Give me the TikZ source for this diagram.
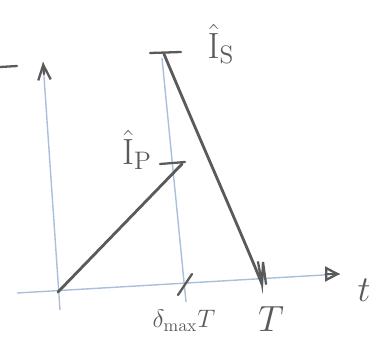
\documentclass[tikz,border=0pt]{standalone}
\usepackage{amsmath,amssymb}
\usepackage{xcolor}
\usetikzlibrary{arrows.meta,positioning,calc}
\definecolor{paleblue}{RGB}{170,192,218}
\definecolor{pencil}{RGB}{90,90,90}

\begin{document}
\begin{tikzpicture}[x=0.02cm, y=-0.02cm,
    axis/.style={paleblue, line width=0.8pt},
    pencilline/.style={pencil, line width=1.6pt, line cap=round},
    ticks/.style={pencil, line width=1.3pt, line cap=round},
    lbl/.style={pencil, inner sep=1pt, font=\huge}
]
\useasboundingbox (0,0) rectangle (385,349);

% axes
\coordinate (o) at (58,292);
\coordinate (ybot) at (60,310);
\coordinate (ytop) at (43,62);
\coordinate (xbeg) at (17,293);
\coordinate (xend) at (340,274);
\coordinate (vtop) at (162,58);
\coordinate (vbot) at (186,302);

\draw[axis] (ybot) -- (ytop);
\draw[axis] (xbeg) -- (xend);
\draw[axis] (vtop) -- (vbot);
\draw[ticks, -{Straight Barb[length=3mm, width=2.5mm]}] ($(ytop)+(1,12)$) -- (ytop);
\draw[ticks, -{Triangle[open, length=3mm, width=3mm]}] ($(xend)+(-2,0)$) -- (xend);
\draw[ticks] (0,67) -- (17,66);

% estimates
\coordinate (ptop) at (182,164);
\coordinate (stop) at (164,54);
\coordinate (send) at (262,284);
\draw[pencilline] (o) -- (ptop);
\draw[ticks] (160,164) -- (185,162);
\draw[pencilline] (stop) .. controls (200,140) and (240,230) .. (send);
\draw[ticks] (150,53) -- (181,52);
\draw[ticks] (258,262) -- (262,284) -- (263,262) -- (266,284);
\draw[ticks] (178,295) -- (192,274);

% labels
\node[lbl] (is) at (221,44) {$\hat{\mathrm{I}}_{\mathrm{S}}$};
\node[lbl] (ip) at (137,150) {$\hat{\mathrm{I}}_{\mathrm{P}}$};
\node[lbl] (tlab) at (364,290) {$t$};
\node[pencil, font=\Large] (dmax) at (184,321) {$\delta_{\max}T$};
\node[lbl] (tmax) at (271,319) {$T$};
\end{tikzpicture}
\end{document}
